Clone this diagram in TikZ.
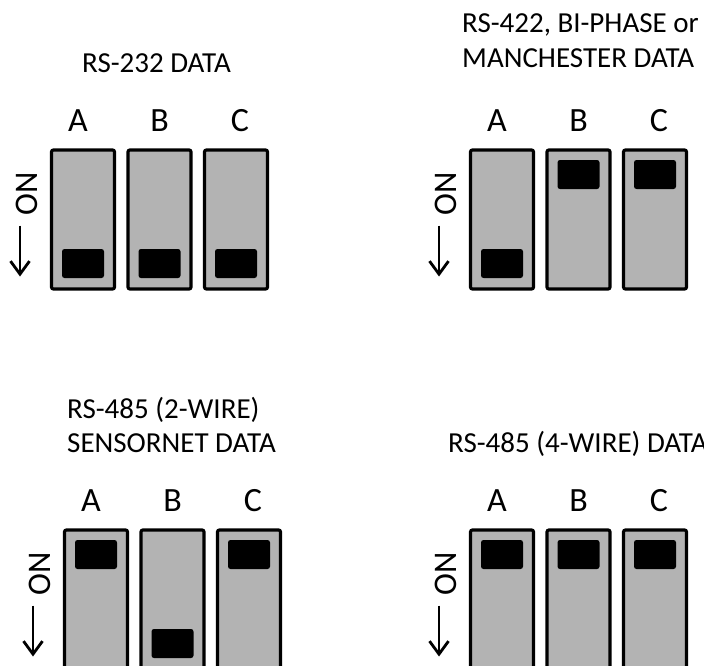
\documentclass[tikz,border=0pt]{standalone}
\usepackage{fontspec}
\setmainfont{Carlito}
\usetikzlibrary{arrows.meta}
\definecolor{swgray}{RGB}{179,179,179}
\tikzset{
  switch/.style={draw=black,line width=3.2pt,fill=swgray,rounded corners=2pt,
    minimum width=63pt,minimum height=139pt,inner sep=0},
  slider/.style={fill=black,rounded corners=2.5pt,minimum width=42pt,
    minimum height=29pt,inner sep=0},
  letter/.style={font=\fontsize{34}{40}\selectfont,anchor=base,inner sep=0},
  title/.style={font=\fontsize{29}{35}\selectfont,anchor=base west,inner sep=0},
  onlabel/.style={font=\fontsize{33}{39}\selectfont,rotate=90,inner sep=0},
  onarrow/.style={line width=1.6pt,
    -{Straight Barb[length=13pt,width=19pt,line width=2.8pt]}}
}
% one bank of three switches: name, left, top, letter/dx/slider-y list
\newcommand{\dipbank}[4]{%
  \begin{scope}[shift={(#2,#3)}]
    \foreach \lab/\dx/\sy [count=\i from 0] in {#4} {
      \node[switch] (#1\lab) at (33+76.5*\i,71) {};
      \node[slider] (#1\lab s) at (33+76.5*\i,\sy) {};
      \node[letter] (#1\lab l) at (33+76.5*\i+\dx,-17) {\lab};
    }
    \node[onlabel] (#1on) at (-23,45) {ON};
    \coordinate (#1p) at (-30,77);
    \coordinate (#1q) at (-30,128);
    \draw[onarrow] (#1p) -- (#1q);
  \end{scope}}
\begin{document}
\begin{tikzpicture}[x=1pt,y=-1pt]
  \clip (0,0) rectangle (704,666);
  % titles
  \node[title] (rs232) at (82,73) {RS-232 DATA};
  \node[title] (rs422) at (462,33) {RS-422, BI-PHASE or};
  \node[title] (manch) at (462,68) {MANCHESTER DATA};
  \node[title] (rs485a) at (67,418) {RS-485 (2-WIRE)};
  \node[title] (snet) at (67,452) {SENSORNET DATA};
  \node[title] (rs485b) at (448,452) {RS-485 (4-WIRE) DATA};
  % switch banks
  \dipbank{tl}{50}{148.5}{A/-5/115,B/0/115,C/4/115}
  \dipbank{tr}{469}{148.5}{A/-5/115,B/0/26,C/4/26}
  \dipbank{bl}{63}{528.5}{A/-5/26,B/0/115,C/4/26}
  \dipbank{br}{469}{528.5}{A/-5/26,B/0/26,C/4/26}
\end{tikzpicture}
\end{document}
